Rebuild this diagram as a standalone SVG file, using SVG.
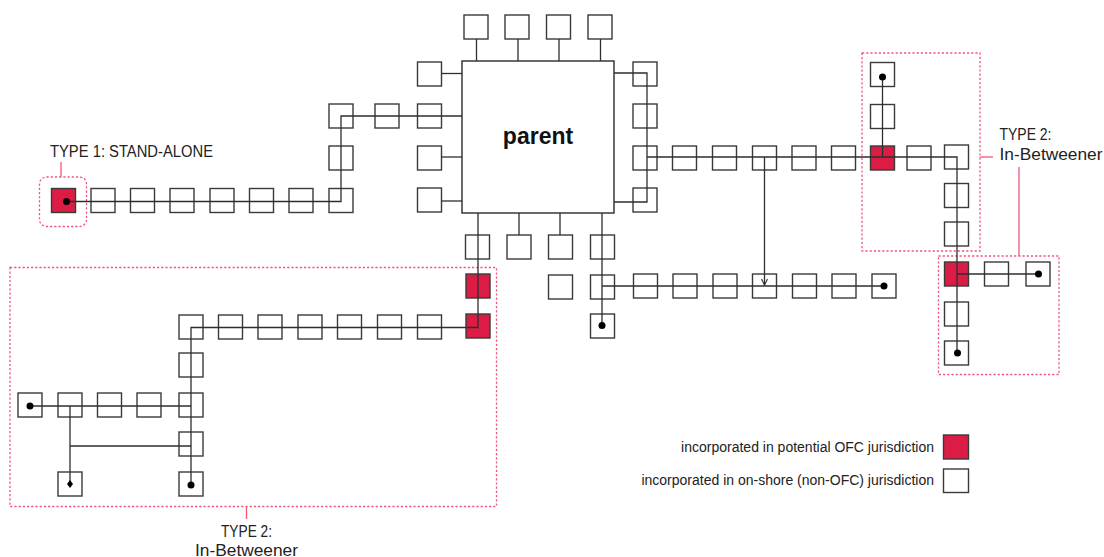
<svg xmlns="http://www.w3.org/2000/svg" width="1104" height="557" viewBox="0 0 1104 557">
<style>
.b{fill:#fff;stroke:#3a3a3a;stroke-width:1.4}
.r{fill:#dc1c45;stroke:#3a3a3a;stroke-width:1.4}
.p{fill:#fff;stroke:#2a2a2a;stroke-width:1.4}
.c{fill:none;stroke:#2e2e2e;stroke-width:1.3}
.d{fill:#000}
.dash{fill:none;stroke:#f0587a;stroke-width:1.3;stroke-dasharray:2.2 2}
.tick{fill:none;stroke:#f0587a;stroke-width:1.3}
.lbl{font-family:"Liberation Sans",Arial,sans-serif;font-size:16px;fill:#222}
.leg{font-family:"Liberation Sans",Arial,sans-serif;font-size:14px;fill:#222}
</style>
<defs>
<marker id="chev" markerWidth="9" markerHeight="9" refX="7" refY="4" orient="auto" markerUnits="userSpaceOnUse">
<path d="M1,1 L7,4 L1,7" fill="none" stroke="#2e2e2e" stroke-width="1.1"/>
</marker>
</defs>
<rect width="1104" height="557" fill="#fff"/>

<!-- frames -->
<g id="frames">
<rect class="dash" x="39.5" y="177" width="47" height="49.5" rx="7"/>
<line class="tick" x1="61" y1="162" x2="61" y2="177"/>
<rect class="dash" x="10" y="267.5" width="486.5" height="239"/>
<line class="tick" x1="246.5" y1="507" x2="246.5" y2="519"/>
<rect class="dash" x="862" y="53" width="118" height="198"/>
<rect class="dash" x="938.5" y="256" width="120.5" height="118.5"/>
<line class="tick" x1="980" y1="157" x2="993" y2="157"/>
<line class="tick" x1="1019" y1="167" x2="1019" y2="256"/>
</g>

<!-- parent -->
<g id="parent">
<rect class="p" x="462" y="61" width="152" height="152"/>
<text x="538" y="144" text-anchor="middle" font-family="'Liberation Sans',Arial,sans-serif" font-size="23" font-weight="bold" fill="#111">parent</text>
</g>

<!-- nodes -->
<g id="n-t1"><rect class="r" x="51.5" y="188.5" width="24" height="24"/></g>
<g id="n-a1"><rect class="b" x="91" y="188.5" width="24" height="24"/></g>
<g id="n-a2"><rect class="b" x="130.5" y="188.5" width="24" height="24"/></g>
<g id="n-a3"><rect class="b" x="170" y="188.5" width="24" height="24"/></g>
<g id="n-a4"><rect class="b" x="210" y="188.5" width="24" height="24"/></g>
<g id="n-a5"><rect class="b" x="249.5" y="188.5" width="24" height="24"/></g>
<g id="n-a6"><rect class="b" x="289" y="188.5" width="24" height="24"/></g>
<g id="n-a7"><rect class="b" x="329" y="188.5" width="24" height="24"/></g>
<g id="n-a8"><rect class="b" x="329" y="146" width="24" height="24"/></g>
<g id="n-a9"><rect class="b" x="329" y="104" width="24" height="24"/></g>
<g id="n-a10"><rect class="b" x="375" y="104" width="24" height="24"/></g>
<g id="n-l2"><rect class="b" x="417.5" y="104" width="24" height="24"/></g>
<g id="n-l1"><rect class="b" x="417.5" y="62" width="24" height="24"/></g>
<g id="n-l3"><rect class="b" x="417.5" y="146" width="24" height="24"/></g>
<g id="n-l4"><rect class="b" x="417.5" y="188" width="24" height="24"/></g>

<g id="n-t1b"><rect class="b" x="464" y="15" width="24" height="24"/></g>
<g id="n-t2b"><rect class="b" x="505" y="15" width="24" height="24"/></g>
<g id="n-t3b"><rect class="b" x="546.5" y="15" width="24" height="24"/></g>
<g id="n-t4b"><rect class="b" x="588" y="15" width="24" height="24"/></g>

<g id="n-r1"><rect class="b" x="633" y="62" width="24" height="24"/></g>
<g id="n-r2"><rect class="b" x="633" y="104" width="24" height="24"/></g>
<g id="n-r3"><rect class="b" x="633" y="146" width="24" height="24"/></g>
<g id="n-r4"><rect class="b" x="633" y="188" width="24" height="24"/></g>

<g id="n-b1"><rect class="b" x="465.5" y="235" width="24" height="24"/></g>
<g id="n-b2"><rect class="b" x="507" y="235" width="24" height="24"/></g>
<g id="n-b3"><rect class="b" x="548.5" y="235" width="24" height="24"/></g>
<g id="n-b4"><rect class="b" x="590.5" y="235" width="24" height="24"/></g>
<g id="n-s1"><rect class="b" x="548.5" y="275" width="24" height="24"/></g>
<g id="n-v2"><rect class="b" x="590.5" y="275" width="24" height="24"/></g>
<g id="n-v3"><rect class="b" x="590.5" y="314" width="24" height="24"/></g>

<g id="n-h1"><rect class="b" x="633.5" y="274" width="24" height="24"/></g>
<g id="n-h2"><rect class="b" x="673" y="274" width="24" height="24"/></g>
<g id="n-h3"><rect class="b" x="713" y="274" width="24" height="24"/></g>
<g id="n-h4"><rect class="b" x="752.5" y="274" width="24" height="24"/></g>
<g id="n-h5"><rect class="b" x="792.5" y="274" width="24" height="24"/></g>
<g id="n-h6"><rect class="b" x="832" y="274" width="24" height="24"/></g>
<g id="n-h7"><rect class="b" x="872" y="274" width="24" height="24"/></g>

<g id="n-m1"><rect class="b" x="672.5" y="146" width="24" height="24"/></g>
<g id="n-m2"><rect class="b" x="712.5" y="146" width="24" height="24"/></g>
<g id="n-m3"><rect class="b" x="752.5" y="146" width="24" height="24"/></g>
<g id="n-m4"><rect class="b" x="792" y="146" width="24" height="24"/></g>
<g id="n-m5"><rect class="b" x="831.5" y="146" width="24" height="24"/></g>
<g id="n-m6"><rect class="r" x="870.5" y="146" width="24" height="24"/></g>
<g id="n-m7"><rect class="b" x="907" y="146" width="24" height="24"/></g>
<g id="n-m8"><rect class="b" x="944.5" y="145" width="24" height="24"/></g>
<g id="n-u1"><rect class="b" x="870.5" y="62.5" width="24" height="24"/></g>
<g id="n-u2"><rect class="b" x="870.5" y="104.5" width="24" height="24"/></g>
<g id="n-k1"><rect class="b" x="944.5" y="183.5" width="24" height="24"/></g>
<g id="n-k2"><rect class="b" x="944.5" y="222" width="24" height="24"/></g>
<g id="n-k3"><rect class="r" x="944.5" y="262" width="24" height="24"/></g>
<g id="n-k4"><rect class="b" x="944.5" y="302" width="24" height="24"/></g>
<g id="n-k5"><rect class="b" x="944.5" y="341" width="24" height="24"/></g>
<g id="n-j1"><rect class="b" x="984.5" y="262" width="24" height="24"/></g>
<g id="n-j2"><rect class="b" x="1026" y="262" width="24" height="24"/></g>

<g id="n-x1"><rect class="r" x="466" y="274" width="24" height="24"/></g>
<g id="n-x2"><rect class="r" x="466" y="314" width="24" height="24"/></g>
<g id="n-y1"><rect class="b" x="179" y="315" width="24" height="24"/></g>
<g id="n-y2"><rect class="b" x="218.5" y="315" width="24" height="24"/></g>
<g id="n-y3"><rect class="b" x="258" y="315" width="24" height="24"/></g>
<g id="n-y4"><rect class="b" x="298" y="315" width="24" height="24"/></g>
<g id="n-y5"><rect class="b" x="337.5" y="315" width="24" height="24"/></g>
<g id="n-y6"><rect class="b" x="377.5" y="315" width="24" height="24"/></g>
<g id="n-y7"><rect class="b" x="417.5" y="315" width="24" height="24"/></g>
<g id="n-z1"><rect class="b" x="179" y="353" width="24" height="24"/></g>
<g id="n-z2"><rect class="b" x="179" y="393" width="24" height="24"/></g>
<g id="n-z3"><rect class="b" x="179" y="432" width="24" height="24"/></g>
<g id="n-z4"><rect class="b" x="179" y="472" width="24" height="24"/></g>
<g id="n-w1"><rect class="b" x="18" y="393" width="24" height="24"/></g>
<g id="n-w2"><rect class="b" x="58" y="393" width="24" height="24"/></g>
<g id="n-w3"><rect class="b" x="97.5" y="393" width="24" height="24"/></g>
<g id="n-w4"><rect class="b" x="137" y="393" width="24" height="24"/></g>
<g id="n-w5"><rect class="b" x="58" y="472" width="24" height="24"/></g>

<!-- connectors -->
<g id="connectors">
<polyline class="c" points="66.5,201.5 341,201.5 341,116 462,116"/>
<line class="c" x1="441.5" y1="73.5" x2="462" y2="73.5"/>
<line class="c" x1="441.5" y1="157" x2="462" y2="157"/>
<line class="c" x1="441.5" y1="201" x2="462" y2="201"/>
<line class="c" x1="476.5" y1="39" x2="476.5" y2="61"/>
<line class="c" x1="518" y1="39" x2="518" y2="61"/>
<line class="c" x1="559" y1="39" x2="559" y2="61"/>
<line class="c" x1="600.5" y1="39" x2="600.5" y2="61"/>
<polyline class="c" points="614,73 647,73 647,202 614,202"/>
<polyline class="c" points="647,157 957,157 957,353"/>
<line class="c" x1="882.5" y1="77" x2="882.5" y2="157"/>
<line class="c" x1="957" y1="274" x2="1038.5" y2="274"/>
<line class="c" x1="764.5" y1="157" x2="764.5" y2="285" marker-end="url(#chev)"/>
<line class="c" x1="519" y1="213" x2="519" y2="235"/>
<line class="c" x1="560" y1="213" x2="560" y2="235"/>
<line class="c" x1="602" y1="213" x2="602" y2="326"/>
<line class="c" x1="602" y1="286" x2="884" y2="286"/>
<polyline class="c" points="478,213 478,327.5 191,327.5 191,485"/>
<line class="c" x1="30" y1="406" x2="191" y2="406"/>
<line class="c" x1="70" y1="406" x2="70" y2="484"/>
<line class="c" x1="70" y1="446" x2="191" y2="446"/>
</g>

<!-- end dots -->
<g id="dots">
<circle class="d" cx="66.5" cy="201.5" r="3.5"/>
<circle class="d" cx="882.5" cy="77" r="3.5"/>
<circle class="d" cx="1038.5" cy="274" r="3.5"/>
<circle class="d" cx="957.5" cy="353" r="3.5"/>
<circle class="d" cx="884" cy="286" r="3.5"/>
<circle class="d" cx="602" cy="325.5" r="3.5"/>
<circle class="d" cx="30" cy="406" r="3.5"/>
<circle class="d" cx="191" cy="485" r="3.5"/>
<path class="d" d="M70,480 L73,484 L70,488 L67,484 Z"/>
</g>

<!-- labels -->
<g id="labels">
<text class="lbl" x="50" y="157" textLength="163" lengthAdjust="spacingAndGlyphs">TYPE 1: STAND-ALONE</text>
<text class="lbl" x="999.5" y="140" textLength="52" lengthAdjust="spacingAndGlyphs">TYPE 2:</text>
<text class="lbl" x="999.5" y="160" textLength="103" lengthAdjust="spacingAndGlyphs">In-Betweener</text>
<text class="lbl" x="246.5" y="537" text-anchor="middle" textLength="51" lengthAdjust="spacingAndGlyphs">TYPE 2:</text>
<text class="lbl" x="246.5" y="555.5" text-anchor="middle" textLength="103" lengthAdjust="spacingAndGlyphs">In-Betweener</text>
</g>

<!-- legend -->
<g id="legend">
<rect class="r" x="943.5" y="435" width="25" height="24"/>
<rect class="b" x="943.5" y="469" width="25" height="23.5"/>
<text class="leg" x="934" y="451.5" text-anchor="end">incorporated in potential OFC jurisdiction</text>
<text class="leg" x="934" y="485" text-anchor="end">incorporated in on-shore (non-OFC) jurisdiction</text>
</g>
</svg>
